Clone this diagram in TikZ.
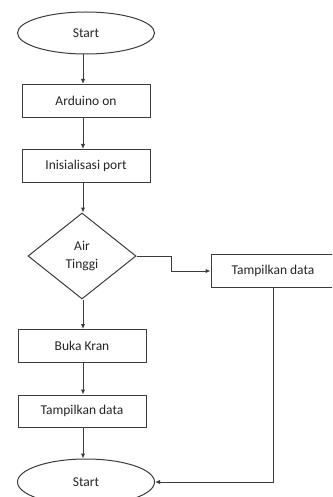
\documentclass[tikz,border=0pt]{standalone}
\usepackage{fontspec}
\setmainfont{Carlito}
\usetikzlibrary{shapes.geometric,arrows.meta}
\definecolor{ln}{HTML}{3C3C3C}
\definecolor{tx}{HTML}{262626}
\begin{document}
\begin{tikzpicture}[x=1pt,y=-1pt,
  every node/.style={font=\fontsize{13.5}{15}\selectfont, text=tx},
  term/.style={ellipse, draw=ln, line width=1pt, minimum width=137pt, minimum height=42pt, inner sep=0pt},
  proc/.style={rectangle, draw=ln, line width=1pt, minimum width=128pt, minimum height=33pt, inner sep=0pt},
  decis/.style={diamond, draw=ln, line width=1pt, minimum width=108pt, minimum height=86pt, inner sep=0pt, aspect=1.256, align=center},
  arr/.style={draw=ln, line width=1pt, -{Latex[length=5pt,width=4.5pt]}}]
\useasboundingbox (0,0) rectangle (332,497);
\clip (0,0) rectangle (332,497);
\fill[white] (0,0) rectangle (332,497);
\coordinate (axis) at (83,0);
\node[term] (start) at (86,33) {Start};
\node[proc] (ard) at (86,101) {Arduino on};
\node[proc] (init) at (86,166) {Inisialisasi port};
\node[decis] (dec) at (82,256) {Air\\[3pt]Tinggi};
\node[proc, minimum width=124pt] (tamp1) at (273,271) {Tampilkan data};
\node[proc] (buka) at (82,346) {Buka Kran};
\node[proc, minimum height=32pt] (tamp2) at (82,411) {Tampilkan data};
\node[term, minimum height=46pt] (end) at (86,482) {Start};
\draw[arr] (start.south -| axis) -- (ard.north -| axis);
\draw[arr] (ard.south -| axis) -- (init.north -| axis);
\draw[arr] (init.south -| axis) -- (dec.north -| axis);
\draw[arr] (dec.south -| axis) -- (buka.north -| axis);
\draw[arr] (buka.south -| axis) -- (tamp2.north -| axis);
\draw[arr] (tamp2.south -| axis) -- (end.north -| axis);
\draw[arr] (dec.east) -- ++(35,0) |- (tamp1.west);
\draw[arr] (tamp1.south) |- (end.east);
\end{tikzpicture}
\end{document}
